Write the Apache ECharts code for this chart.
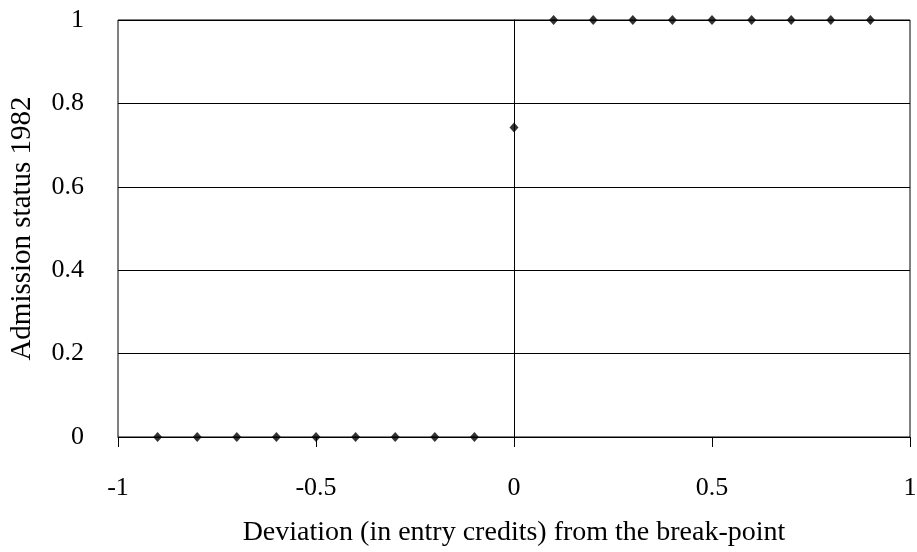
<!DOCTYPE html>
<html><head><meta charset="utf-8">
<script src="https://cdn.jsdelivr.net/npm/echarts@6/dist/echarts.min.js"></script>
<style>html,body{margin:0;padding:0;background:#fff}#c{width:917px;height:552px}</style>
</head><body><div id="c"></div>
<script>
const xValues = [-0.9,-0.8,-0.7,-0.6,-0.5,-0.4,-0.3,-0.2,-0.1,0,0.1,0.2,0.3,0.4,0.5,0.6,0.7,0.8,0.9];
const yValues = [0,0,0,0,0,0,0,0,0,0.742,1,1,1,1,1,1,1,1,1];
const xTitle = 'Deviation (in entry credits) from the break-point';
const yTitle = 'Admission status 1982';
const font = '"Liberation Serif", "DejaVu Serif", serif';
const chart = echarts.init(document.getElementById('c'));
chart.setOption({
  animation:false,
  backgroundColor:'#fff',
  grid:{left:118,right:7,top:20,bottom:115,show:true,borderColor:'#000',borderWidth:1,containLabel:false,outerBoundsMode:'none'},
  xAxis:{type:'value',min:-1,max:1,interval:0.5,
    name:xTitle,nameLocation:'middle',nameGap:82,
    nameTextStyle:{fontFamily:font,fontSize:28,color:'#000'},
    axisLine:{show:true,onZero:false,lineStyle:{color:'#000'}},
    axisTick:{show:true,length:10,inside:false,lineStyle:{color:'#000'}},
    axisLabel:{fontFamily:font,fontSize:26,color:'#000',margin:38,formatter:v=>String(v)},
    splitLine:{show:false}},
  yAxis:{type:'value',min:0,max:1,interval:0.2,
    name:yTitle,nameLocation:'middle',nameGap:81,
    nameTextStyle:{fontFamily:font,fontSize:29,color:'#000'},
    axisLine:{show:true,lineStyle:{color:'#000'}},
    axisTick:{show:true,length:9,lineStyle:{color:'#000'}},
    axisLabel:{fontFamily:font,fontSize:26,color:'#000',margin:34,formatter:v=>String(+v.toFixed(1))},
    splitLine:{show:true,lineStyle:{color:'#000',width:1}}},
  series:[{type:'scatter',data:xValues.map((x,i)=>[x,yValues[i]]),
    symbol:'diamond',symbolSize:[9,10],itemStyle:{color:'#000'},
    markLine:{silent:true,symbol:'none',label:{show:false},lineStyle:{color:'#000',width:1,type:'solid'},data:[{xAxis:0}]}}]
});
</script></body></html>
